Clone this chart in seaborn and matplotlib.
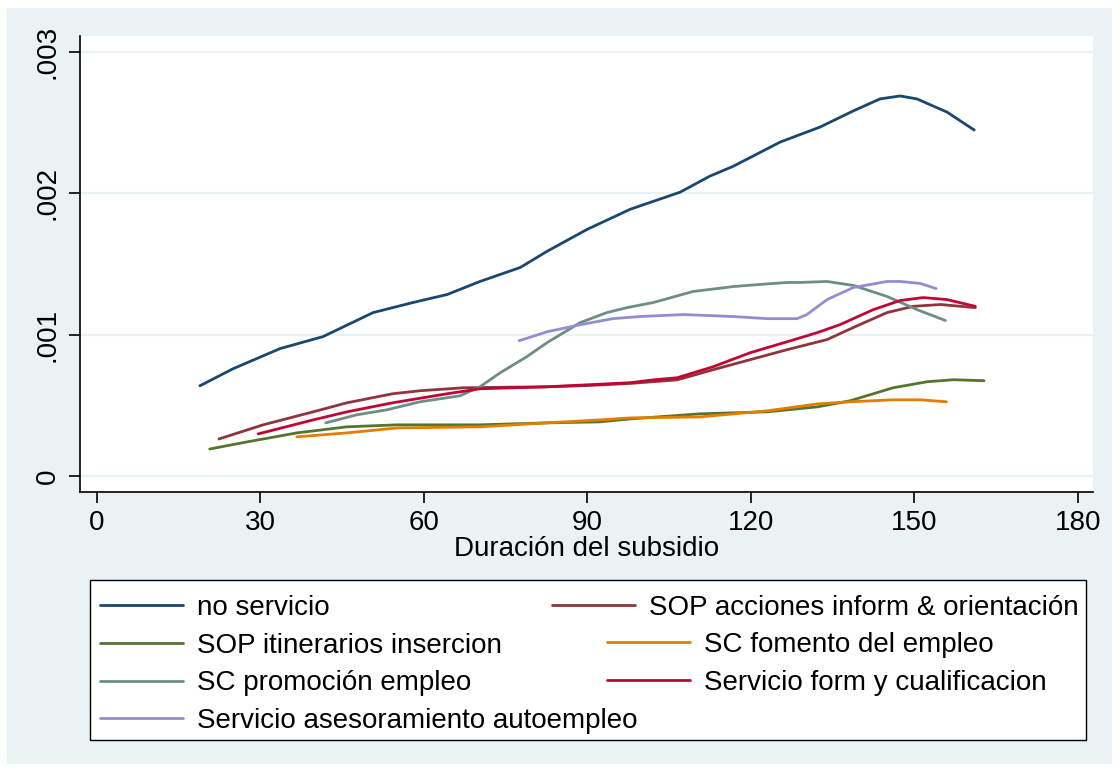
import numpy as np
import pandas as pd
import matplotlib
matplotlib.use("Agg")
import matplotlib.pyplot as plt
from matplotlib.lines import Line2D
from matplotlib.patches import Rectangle
from matplotlib.ticker import FixedLocator, FixedFormatter
import seaborn as sns

# ---------------- data ----------------
labels = [
    "no servicio",
    "SOP acciones inform & orientación",
    "SOP itinerarios insercion",
    "SC fomento del empleo",
    "SC promoción empleo",
    "Servicio form y cualificacion",
    "Servicio asesoramiento autoempleo",
]
colors = ["#1a476f", "#90353b", "#55752f", "#e37e00", "#6e8e84", "#c10534", "#938dd2"]

x_no_servicio = [18.9, 25.0, 33.6, 41.5, 50.7, 58.0, 64.3, 70.3, 77.7, 82.6, 90.0, 97.9,
                 107.0, 112.5, 116.8, 125.4, 132.7, 138.8, 143.7, 147.4, 150.5, 156.0, 161.0]
y_no_servicio = [0.638, 0.759, 0.901, 0.986, 1.156, 1.227, 1.284, 1.376, 1.475, 1.589, 1.745, 1.887,
                 2.007, 2.121, 2.191, 2.362, 2.468, 2.582, 2.667, 2.688, 2.667, 2.574, 2.447]

x_sop_acciones = [22.4, 30.5, 39.7, 45.9, 54.3, 59.3, 67.2, 75.0, 82.6, 90.0, 97.9, 106.5,
                  113.1, 119.9, 126.7, 134.0, 138.8, 145.0, 149.8, 154.8, 161.2]
y_sop_acciones = [0.262, 0.362, 0.454, 0.518, 0.582, 0.603, 0.624, 0.628, 0.631, 0.640, 0.655, 0.680,
                  0.752, 0.823, 0.894, 0.965, 1.050, 1.156, 1.200, 1.213, 1.191]

x_sop_itinerarios = [20.7, 27.5, 36.7, 45.9, 55.1, 70.3, 82.6, 92.3, 97.9, 110.7, 123.0, 132.2,
                     138.2, 146.1, 152.4, 157.2, 162.8]
y_sop_itinerarios = [0.191, 0.241, 0.305, 0.348, 0.362, 0.362, 0.376, 0.383, 0.404, 0.440, 0.454, 0.489,
                     0.532, 0.624, 0.667, 0.681, 0.674]

x_sc_fomento = [36.7, 45.9, 55.1, 70.3, 82.6, 92.3, 97.9, 110.7, 123.0, 132.2, 138.2, 146.1, 151.1, 155.9]
y_sc_fomento = [0.277, 0.305, 0.340, 0.348, 0.376, 0.397, 0.411, 0.418, 0.461, 0.510, 0.525, 0.539, 0.539, 0.525]

x_sc_promocion = [42.0, 47.7, 53.2, 59.3, 66.6, 70.3, 74.0, 78.9, 82.6, 88.7, 93.6, 97.3, 102.1,
                  109.4, 116.8, 121.7, 126.7, 129.1, 134.0, 138.8, 145.0, 150.5, 155.7]
y_sc_promocion = [0.376, 0.433, 0.468, 0.525, 0.567, 0.631, 0.730, 0.844, 0.943, 1.085, 1.156, 1.191, 1.227,
                  1.305, 1.340, 1.355, 1.369, 1.369, 1.376, 1.348, 1.270, 1.177, 1.100]

x_serv_form = [29.6, 39.7, 45.9, 54.3, 64.3, 70.3, 82.6, 97.9, 102.1, 106.5, 113.1, 119.9, 126.7,
               132.2, 136.4, 142.5, 147.4, 151.6, 156.0, 161.2]
y_serv_form = [0.298, 0.397, 0.454, 0.518, 0.582, 0.617, 0.631, 0.660, 0.680, 0.695, 0.773, 0.872, 0.950,
               1.014, 1.071, 1.177, 1.241, 1.262, 1.248, 1.200]

x_serv_autoempleo = [77.5, 82.6, 88.7, 94.7, 99.7, 107.6, 116.8, 123.0, 128.5, 130.3, 134.0, 138.8,
                     145.0, 147.4, 151.1, 154.0]
y_serv_autoempleo = [0.957, 1.020, 1.070, 1.113, 1.128, 1.142, 1.128, 1.113, 1.113, 1.142, 1.248, 1.333,
                     1.376, 1.376, 1.362, 1.326]

x_ticks = [0, 30, 60, 90, 120, 150, 180]
y_ticks = [0, 0.001, 0.002, 0.003]
y_tick_labels = ["0", ".001", ".002", ".003"]
x_title = "Duración del subsidio"

series_x = [x_no_servicio, x_sop_acciones, x_sop_itinerarios, x_sc_fomento,
            x_sc_promocion, x_serv_form, x_serv_autoempleo]
series_y = [y_no_servicio, y_sop_acciones, y_sop_itinerarios, y_sc_fomento,
            y_sc_promocion, y_serv_form, y_serv_autoempleo]

frames = []
for lab, xs, ys in zip(labels, series_x, series_y):
    frames.append(pd.DataFrame({"x": xs, "y": np.array(ys) * 1e-3, "serie": lab}))
df = pd.concat(frames, ignore_index=True)

# ---------------- styling ----------------
sns.set_theme(style="white")
plt.rcParams["font.family"] = ["Liberation Sans", "DejaVu Sans"]
FS = 20
BG = "#EAF2F3"

W, H = 1120, 772
fig = plt.figure(figsize=(W / 100, H / 100), dpi=100, facecolor="white")

# light graph region inside a thin white border
fig.patches.append(Rectangle((7 / W, 1 - 764 / H), (1112 - 7) / W, (764 - 8) / H,
                             transform=fig.transFigure, facecolor=BG, edgecolor="none", zorder=-10))

L, R, T, B = 80, 1093, 36, 492
ax = fig.add_axes([L / W, 1 - B / H, (R - L) / W, (B - T) / H])
ax.set_facecolor("white")
ax.set_zorder(2)

sns.lineplot(data=df, x="x", y="y", hue="serie", hue_order=labels,
             palette=dict(zip(labels, colors)), sort=False, estimator=None,
             units="serie", linewidth=2.0, legend=False, ax=ax)

ax.set_xlim(-3.1, 182.8)
ax.set_ylim(-0.000113, 0.003112)
ax.xaxis.set_major_locator(FixedLocator(x_ticks))
ax.yaxis.set_major_locator(FixedLocator(y_ticks))
ax.yaxis.set_major_formatter(FixedFormatter(y_tick_labels))
ax.grid(axis="y", color=BG, linewidth=1.6)
ax.grid(axis="x", visible=False)
ax.set_axisbelow(True)

for s in ["top", "right"]:
    ax.spines[s].set_visible(False)
for s in ["left", "bottom"]:
    ax.spines[s].set_color("black")
    ax.spines[s].set_linewidth(1.2)

ax.tick_params(axis="both", which="major", length=8, width=1.2, color="black",
               labelsize=FS, labelcolor="black", direction="out", bottom=True, left=True)
ax.tick_params(axis="x", pad=5)
ax.tick_params(axis="y", pad=6)
for t in ax.get_yticklabels():
    t.set_rotation(90)
    t.set_va("center")

ax.set_xlabel(x_title, fontsize=FS, color="black", labelpad=0)
ax.set_ylabel("")

# ---------------- legend ----------------
fig.patches.append(Rectangle((90 / W, 1 - 740 / H), (1086 - 90) / W, (740 - 580) / H,
                             transform=fig.transFigure, facecolor="white", edgecolor="black",
                             linewidth=1.0, zorder=1))

handles = [Line2D([0], [0], color=c, linewidth=2.0) for c in colors]
common = dict(frameon=False, fontsize=FS, handlelength=3.0, handletextpad=0.5,
              labelspacing=0.42, borderpad=0, borderaxespad=0, loc="upper left")

top0 = 595
step = 37
col1 = [0, 2, 4, 6]
leg1 = fig.legend([handles[i] for i in col1], [labels[i] for i in col1],
                  bbox_to_anchor=(100 / W, 1 - top0 / H), **common)
leg2 = fig.legend([handles[1]], [labels[1]],
                  bbox_to_anchor=(552 / W, 1 - top0 / H), **common)
leg3 = fig.legend([handles[i] for i in [3, 5]], [labels[i] for i in [3, 5]],
                  bbox_to_anchor=(607 / W, 1 - (top0 + step) / H), **common)
for lg in (leg1, leg2, leg3):
    lg.set_zorder(5)
    for t in lg.get_texts():
        t.set_color("black")

fig.savefig("out.png", dpi=100, facecolor="white")
